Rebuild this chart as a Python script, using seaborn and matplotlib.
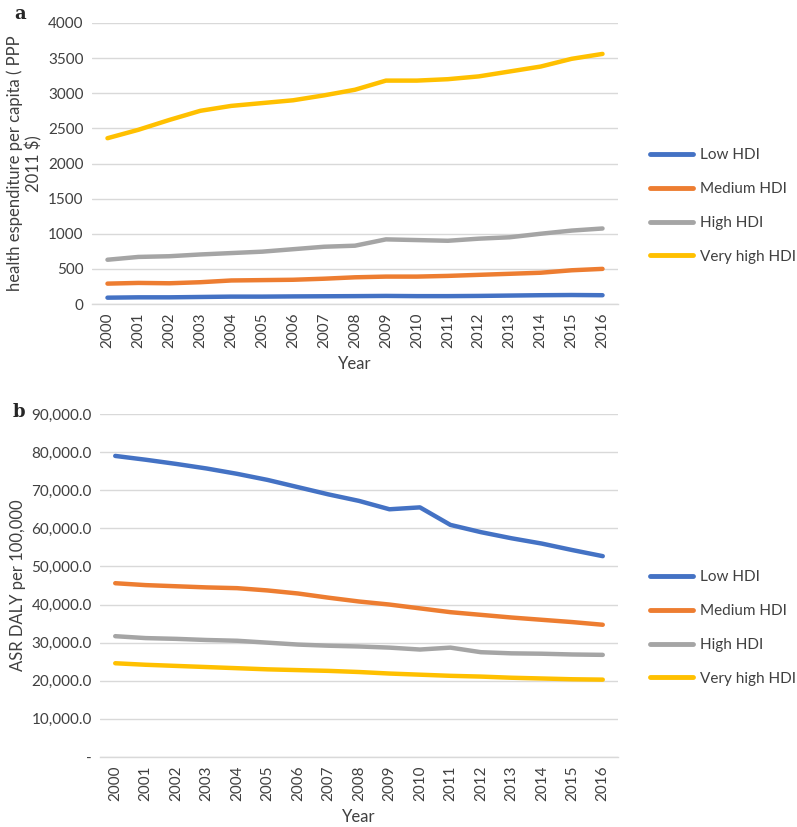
import numpy as np
import pandas as pd
import matplotlib
matplotlib.use("Agg")
import matplotlib.pyplot as plt
import seaborn as sns

years = list(range(2000, 2017))
groups = ["Low HDI", "Medium HDI", "High HDI", "Very high HDI"]
colors = ["#4472C4", "#ED7D31", "#A5A5A5", "#FFC000"]

# Panel a: health expenditure per capita (PPP 2011 $)
exp_low = [90, 95, 95, 100, 105, 105, 108, 110, 112, 115, 112, 112, 115, 120, 125, 128, 125]
exp_medium = [290, 300, 295, 310, 335, 340, 345, 360, 380, 390, 390, 400, 415, 430, 445, 480, 500]
exp_high = [630, 670, 680, 705, 725, 745, 780, 815, 830, 920, 910, 900, 930, 950, 1000, 1045, 1075]
exp_vhigh = [2360, 2480, 2620, 2750, 2820, 2860, 2900, 2970, 3050, 3180, 3180, 3200, 3240, 3310, 3380, 3490, 3560]

# Panel b: ASR DALY per 100,000
daly_low = [79000, 78000, 76900, 75700, 74300, 72700, 70800, 68900, 67200, 65000, 65500, 60900, 59000, 57400, 56000, 54300, 52700]
daly_medium = [45600, 45100, 44800, 44500, 44300, 43700, 42900, 41800, 40800, 40000, 39000, 38000, 37300, 36600, 36000, 35400, 34700]
daly_high = [31700, 31200, 31000, 30700, 30500, 30000, 29500, 29200, 29000, 28700, 28200, 28700, 27500, 27200, 27100, 26900, 26800]
daly_vhigh = [24600, 24200, 23900, 23600, 23300, 23000, 22800, 22600, 22300, 21900, 21600, 21300, 21100, 20800, 20600, 20400, 20300]

yticks_a = [0, 500, 1000, 1500, 2000, 2500, 3000, 3500, 4000]
yticks_b = [0, 10000, 20000, 30000, 40000, 50000, 60000, 70000, 80000, 90000]


def long_df(series):
    rows = []
    for g, vals in zip(groups, series):
        for y, v in zip(years, vals):
            rows.append({"Year": y, "Group": g, "Value": v})
    return pd.DataFrame(rows)


df_a = long_df([exp_low, exp_medium, exp_high, exp_vhigh])
df_b = long_df([daly_low, daly_medium, daly_high, daly_vhigh])

sns.set_theme(style="white")
plt.rcParams["font.family"] = ["Lato", "DejaVu Sans"]

W, H = 797, 827
fig = plt.figure(figsize=(W / 100, H / 100), dpi=100)


def make_ax(l, r, t, b):
    return fig.add_axes([l / W, 1 - b / H, (r - l) / W, (b - t) / H])


ax_a = make_ax(92, 618, 23, 304)
ax_b = make_ax(100, 618, 414, 757)

palette = dict(zip(groups, colors))
tick_fs = 11
txt = "#404040"


def style(ax, df, yticks, ylabel, fmt, leg_y):
    sns.lineplot(data=df, x="Year", y="Value", hue="Group", hue_order=groups,
                 palette=palette, linewidth=3.2, ax=ax, legend=True,
                 solid_capstyle="round")
    ax.set_xlim(years[0] - 0.5, years[-1] + 0.5)
    ax.set_ylim(yticks[0], yticks[-1])
    ax.set_yticks(yticks)
    ax.set_yticklabels([fmt(v) for v in yticks], fontsize=tick_fs, color=txt)
    ax.set_xticks(years)
    ax.set_xticklabels([str(y) for y in years], rotation=90, fontsize=tick_fs, color=txt)
    ax.tick_params(axis="both", length=0, pad=6)
    ax.grid(axis="y", color="#D9D9D9", linewidth=1)
    ax.set_axisbelow(True)
    for s in ["top", "right", "left"]:
        ax.spines[s].set_visible(False)
    ax.spines["bottom"].set_color("#D9D9D9")
    ax.spines["bottom"].set_linewidth(1)
    ax.set_xlabel("Year", fontsize=12, color=txt, labelpad=6)
    ax.set_ylabel(ylabel, fontsize=12, color=txt, linespacing=1.15)
    leg = ax.legend(loc="center left", bbox_to_anchor=(650 / W, 1 - leg_y / H),
                    bbox_transform=fig.transFigure, borderaxespad=0, borderpad=0,
                    frameon=False, fontsize=11, handlelength=2.8, handletextpad=0.45,
                    labelspacing=1.3, labelcolor=txt)
    for h in leg.get_lines():
        h.set_linewidth(3.5)
        h.set_solid_capstyle("round")


style(ax_a, df_a, yticks_a, "health espenditure per capita ( PPP\n2011 $)",
      lambda v: f"{v:d}", 206)
style(ax_b, df_b, yticks_b, "ASR DALY per 100,000",
      lambda v: "-" if v == 0 else f"{v:,.1f}", 628)

fig.text(14 / W, 1 - 14 / H, "a", fontsize=13, fontweight="bold", family="DejaVu Serif",
         va="center", ha="left")
fig.text(13 / W, 1 - 412 / H, "b", fontsize=13, fontweight="bold", family="DejaVu Serif",
         va="center", ha="left")

fig.savefig("out.png", dpi=100)
